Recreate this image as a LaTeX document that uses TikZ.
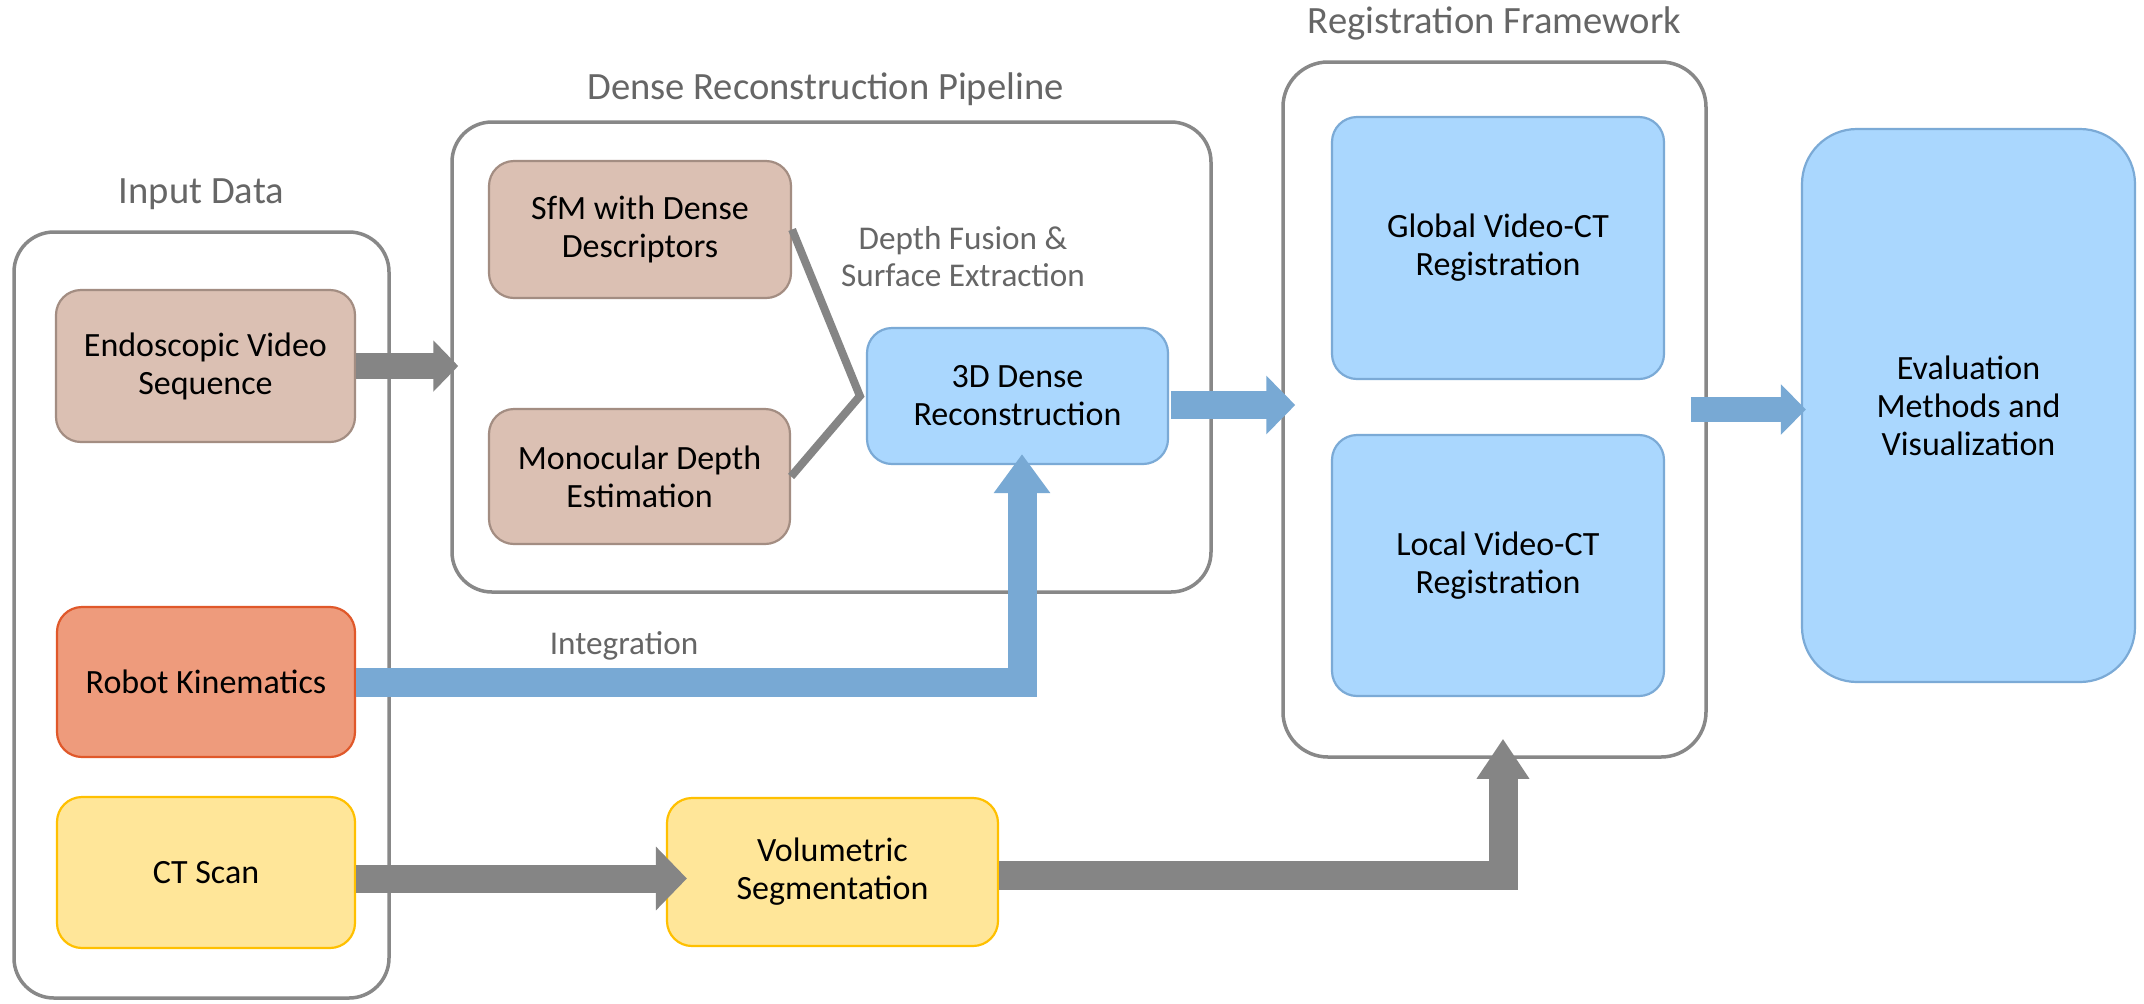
\documentclass[tikz,border=0pt]{standalone}
\usepackage{fontspec}
\setmainfont{Carlito}
\usepackage{xcolor}
\usetikzlibrary{positioning, arrows.meta}

\definecolor{framegray}{HTML}{888888}
\definecolor{labelgray}{HTML}{666666}
\definecolor{flowgray}{HTML}{858585}
\definecolor{flowblue}{HTML}{78A9D4}
\definecolor{brownfill}{HTML}{DBC0B3}
\definecolor{brownline}{HTML}{A38D82}
\definecolor{kinfill}{HTML}{EE9B7C}
\definecolor{kinline}{HTML}{E0582A}
\definecolor{ctfill}{HTML}{FFE699}
\definecolor{ctline}{HTML}{FFC000}
\definecolor{bluefill}{HTML}{AAD7FE}
\definecolor{blueline}{HTML}{7BAAD6}

\newcommand{\blockfont}{\fontsize{17}{19}\selectfont}
\newcommand{\titlefont}{\fontsize{19.3}{21}\selectfont}
\newcommand{\annotfont}{\fontsize{16.6}{18.5}\selectfont}

\tikzset{
    % Frames and blocks
    container/.style={rectangle, draw=framegray, line width=1.75pt, rounded corners=20pt, inner sep=0pt},
    block/.style={rectangle, line width=1.1pt, rounded corners=12.5pt, align=center, inner sep=0pt, font=\blockfont},
    input block/.style={block, fill=brownfill, draw=brownline},
    kin block/.style={block, fill=kinfill, draw=kinline},
    ct block/.style={block, fill=ctfill, draw=ctline},
    reg block/.style={block, fill=bluefill, draw=blueline},
    % Texts
    title/.style={font=\titlefont, text=labelgray, anchor=base},
    annot/.style={font=\annotfont, text=labelgray, align=center},
    % Connectors
    gray flow/.style={draw=flowgray, line width=14pt, -{Triangle[width=28pt, length=15pt]}},
    blue flow/.style={draw=flowblue, line width=14pt, -{Triangle[width=27pt, length=16pt]}},
    fuse/.style={draw=flowgray, line width=4pt},
}

\begin{document}
\begin{tikzpicture}[x=0.5pt, y=-0.5pt]
    \fill[white] (0,0) rectangle (2144,1003);
    \useasboundingbox (0,0) rectangle (2144,1003);

    % Input data
    \node[container, minimum width=187.5pt, minimum height=383pt] (inputs) at (201.5, 615) {};
    \node[title] (inputs title) at ([yshift=13.5pt]inputs.north) {Input Data};
    \node[input block, minimum width=149.5pt, minimum height=76pt] (endo) at (205.5, 366) {Endoscopic Video\\Sequence};
    \node[kin block, minimum width=149pt, minimum height=75pt] (robot) at (206, 682) {Robot Kinematics};
    \node[ct block, minimum width=149pt, minimum height=75.5pt] (ct) at (206, 872.5) {CT Scan};

    % Dense reconstruction pipeline
    \node[container, minimum width=379.5pt, minimum height=235pt] (dense) at (831.5, 357) {};
    \node[title] (dense title) at ([xshift=-3pt, yshift=10.5pt]dense.north) {Dense Reconstruction Pipeline};
    \node[input block, minimum width=151pt, minimum height=68.5pt] (sfm) at (640, 229.5) {SfM with Dense\\Descriptors};
    \node[input block, minimum width=150.5pt, minimum height=67.5pt] (mono) at (639.5, 476.5) {Monocular Depth\\Estimation};
    \node[reg block, minimum width=150.5pt, minimum height=68pt] (recon) at (1017.5, 396) {3D Dense\\Reconstruction};
    \node[annot] (fusion) at (963, 257) {Depth Fusion \&\\Surface Extraction};

    % Segmentation
    \node[ct block, minimum width=165.5pt, minimum height=74pt] (vol) at (832.5, 872) {Volumetric\\Segmentation};
    \node[annot, anchor=base] (integ) at (624, 654) {Integration};

    % Registration framework
    \node[container, rounded corners=22.5pt, minimum width=211.5pt, minimum height=347.5pt] (reg) at (1494.5, 409.5) {};
    \node[title] (reg title) at ([yshift=13.5pt]reg.north) {Registration Framework};
    \node[reg block, minimum width=166pt, minimum height=131pt] (global) at (1498, 248) {Global Video-CT\\Registration};
    \node[reg block, minimum width=166pt, minimum height=130.5pt] (local) at (1498, 565.5) {Local Video-CT\\Registration};

    % Evaluation
    \node[reg block, rounded corners=27.5pt, minimum width=166.5pt, minimum height=276.5pt] (eval) at (1968.5, 405.5) {Evaluation\\Methods and\\Visualization};

    % Fusion lines
    \draw[fuse] (sfm.east) -- ([xshift=-3pt]recon.west) -- (mono.east);

    % Arrows
    \draw[gray flow, line width=13pt, -{Triangle[width=25pt, length=12.5pt]}] (endo.east) -- ([xshift=4pt]endo.east -| dense.west);
    \draw[blue flow, line width=14.5pt, -{Triangle[width=27pt, length=19.5pt]}] (robot.east) -| ([xshift=2.25pt, yshift=5.5pt]recon.south);
    \draw[gray flow, -{Triangle[width=31pt, length=15.5pt]}] ([yshift=-3pt]ct.east) -- ([xshift=10.5pt, yshift=-3pt]ct.east -| vol.west);
    \draw[gray flow, line width=14.5pt, -{Triangle[width=25pt, length=20pt]}] ([yshift=-1.5pt]vol.east) -| ([xshift=4.25pt, yshift=10pt]reg.south);
    \draw[blue flow, -{Triangle[width=28.5pt, length=14.5pt]}] ([xshift=1pt, yshift=-4.5pt]recon.east) -- ([xshift=7pt, yshift=-4.5pt]recon.east -| reg.west);
    \draw[blue flow, line width=12.5pt, -{Triangle[width=24.5pt, length=12.5pt]}] ([xshift=-8.5pt]reg.east) -- ([xshift=2.5pt]reg.east -| eval.west);
\end{tikzpicture}
\end{document}
